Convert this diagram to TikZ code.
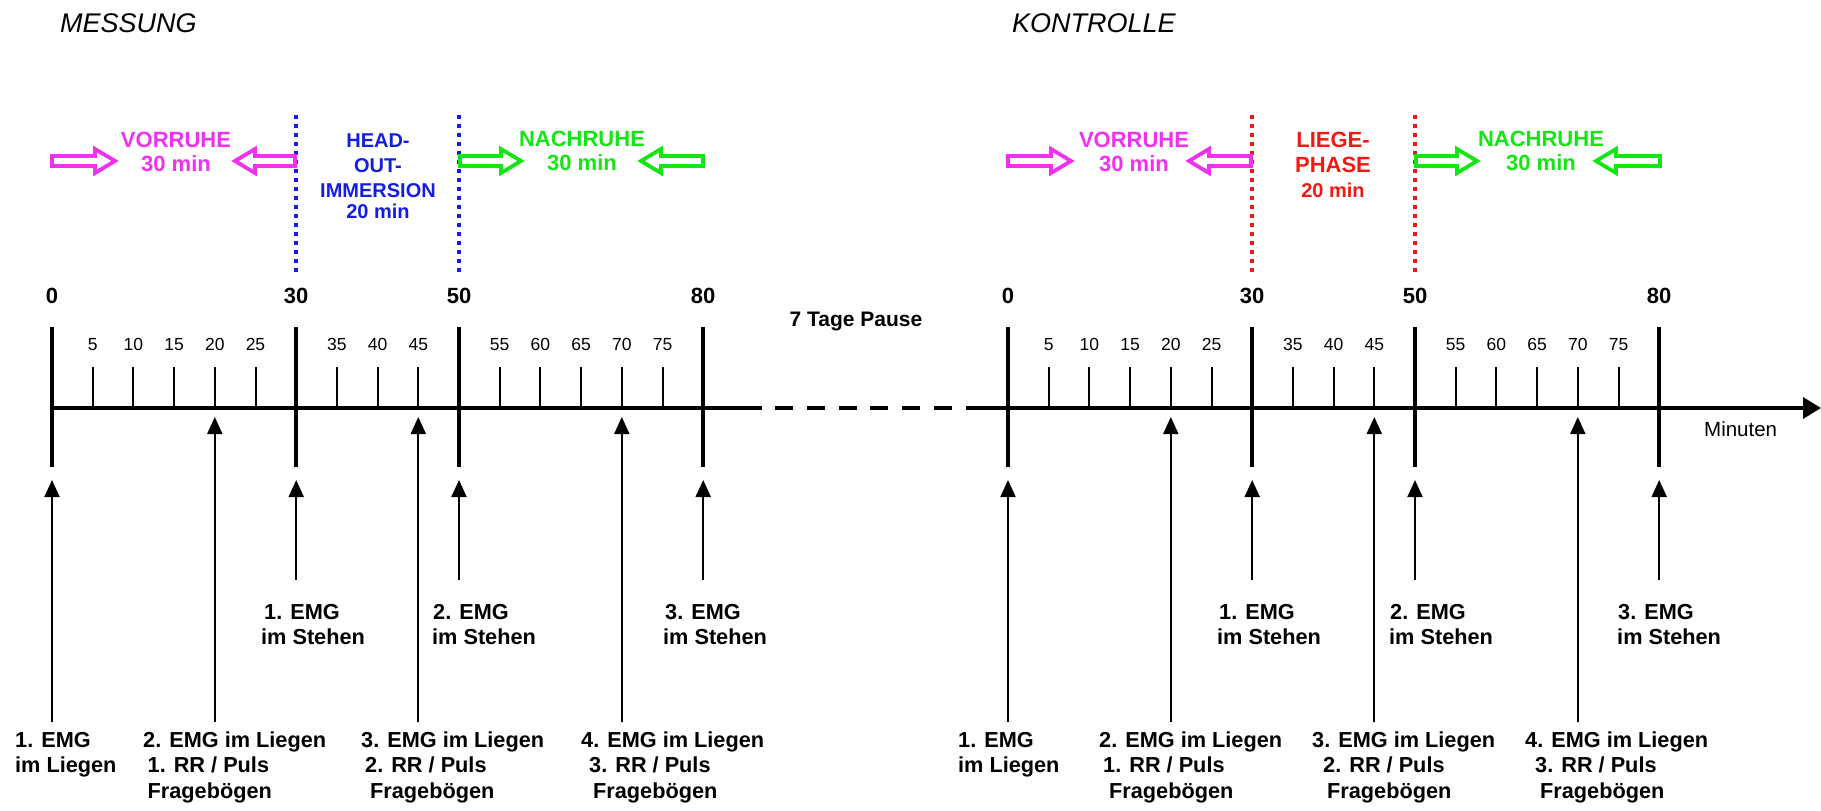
\documentclass[tikz,border=0pt]{standalone}
\usepackage{fontspec}
\setmainfont{Liberation Sans}
\usetikzlibrary{arrows.meta}
\definecolor{mag}{RGB}{240,50,240}
\definecolor{grn}{RGB}{20,230,20}
\definecolor{blu}{RGB}{20,30,225}
\definecolor{rd}{RGB}{240,25,20}
\newcommand\hollowR[4]{% colour, tail x, tip x, y
  \draw[#1, line width=3.8pt, line join=miter]
    (#2,#4-5) -- (#3-20,#4-5) -- (#3-20,#4-12) -- (#3,#4) -- (#3-20,#4+12)
    -- (#3-20,#4+5) -- (#2,#4+5) -- cycle;}
\newcommand\hollowL[4]{% colour, tip x, tail x, y
  \draw[#1, line width=3.8pt, line join=miter]
    (#3,#4-5) -- (#2+20,#4-5) -- (#2+20,#4-12) -- (#2,#4) -- (#2+20,#4+12)
    -- (#2+20,#4+5) -- (#3,#4+5) -- cycle;}
\tikzset{
  title/.style={font=\itshape\fontsize{27}{30}\selectfont, anchor=base west, inner sep=0pt},
  lbl/.style={font=\bfseries\fontsize{21.7}{25.5}\selectfont, anchor=base west, inner sep=0pt},
  phase/.style={font=\bfseries\fontsize{22}{24.5}\selectfont, anchor=base, inner sep=0pt},
  majlbl/.style={font=\bfseries\fontsize{22}{24}\selectfont, anchor=base, inner sep=0pt},
  minlbl/.style={font=\fontsize{17.5}{19}\selectfont, anchor=base, inner sep=0pt},
  axisline/.style={line width=3.3pt},
  majortick/.style={line width=4pt},
  minortick/.style={line width=2pt},
  upar/.style={line width=2pt, -{Triangle[length=17pt,width=15pt]}},
  dotline/.style={line width=3.5pt, dash pattern=on 3.5pt off 5.5pt},
}
\begin{document}
\begin{tikzpicture}[x=1pt,y=-1pt]
\useasboundingbox (0,0) rectangle (1821,811);

% titles
\node[title] (tM) at (60,32) {MESSUNG};
\node[title] (tK) at (1012,32) {KONTROLLE};

% dotted phase borders
\coordinate (bd1a) at (296,115); \coordinate (bd1b) at (296,272);
\coordinate (bd2a) at (459,115); \coordinate (bd2b) at (459,272);
\coordinate (rd1a) at (1252,115); \coordinate (rd1b) at (1252,272);
\coordinate (rd2a) at (1415,115); \coordinate (rd2b) at (1415,272);
\draw[dotline, blu] (bd1a) -- (bd1b);
\draw[dotline, blu] (bd2a) -- (bd2b);
\draw[dotline, rd] (rd1a) -- (rd1b);
\draw[dotline, rd] (rd2a) -- (rd2b);

% hollow arrows
\hollowR{mag}{52}{115}{161}
\hollowL{mag}{235}{295}{161}
\hollowR{grn}{460}{521}{161}
\hollowL{grn}{641}{703}{161}
\hollowR{mag}{1008}{1071}{161}
\hollowL{mag}{1189}{1251}{161}
\hollowR{grn}{1416}{1477}{161}
\hollowL{grn}{1596}{1660}{161}

% phase labels
\node[phase, text=mag] (vr1) at (176,147) {\begin{tabular}[t]{@{}c@{}}VORRUHE\\30 min\end{tabular}};
\node[phase, text=mag] (vr2) at (1134,147) {\begin{tabular}[t]{@{}c@{}}VORRUHE\\30 min\end{tabular}};
\node[phase, text=grn] (nr1) at (582,146) {\begin{tabular}[t]{@{}c@{}}NACHRUHE\\30 min\end{tabular}};
\node[phase, text=grn] (nr2) at (1541,146) {\begin{tabular}[t]{@{}c@{}}NACHRUHE\\30 min\end{tabular}};
\node[phase, text=blu, font=\bfseries\fontsize{20}{25}\selectfont] (hoi) at (378,147)
  {\begin{tabular}[t]{@{}c@{}}HEAD-\\OUT-\\IMMERSION\\[-4pt]20 min\end{tabular}};
\node[phase, text=rd, font=\bfseries\fontsize{22}{25}\selectfont] (lp) at (1333,147)
  {\begin{tabular}[t]{@{}c@{}}LIEGE-\\PHASE\\{\fontsize{20}{25}\selectfont 20 min}\end{tabular}};

% axis
\coordinate (A0) at (52,408);   \coordinate (A1) at (762,408);
\coordinate (D0) at (775,408);  \coordinate (D1) at (953,408);
\coordinate (B0) at (966,408);  \coordinate (B1) at (1821,408);
\draw[axisline] (A0) -- (A1);
\draw[axisline, dash pattern=on 18pt off 13.8pt] (D0) -- (D1);
\draw[axisline, -{Triangle[length=18pt,width=21pt]}] (B0) -- (B1);

\node[font=\bfseries\fontsize{21}{23}\selectfont, anchor=base, inner sep=0pt] (pause) at (856,326) {7 Tage Pause};
\node[font=\fontsize{20.5}{23}\selectfont, anchor=base west, inner sep=0pt] (minuten) at (1704,436) {Minuten};

% ticks, labels, arrows
\foreach \o/\s in {52/L,1008/R} {
  \foreach \t in {0,30,50,80} {
    \coordinate (\s M\t-a) at ({\o+8.14*\t},327);
    \coordinate (\s M\t-b) at ({\o+8.14*\t},467);
    \draw[majortick] (\s M\t-a) -- (\s M\t-b);
    \node[majlbl] (\s ML\t) at ({\o+8.14*\t},303) {\t};
  }
  \foreach \t in {5,10,15,20,25,35,40,45,55,60,65,70,75} {
    \coordinate (\s m\t-a) at ({\o+8.14*\t},367);
    \coordinate (\s m\t-b) at ({\o+8.14*\t},408);
    \draw[minortick] (\s m\t-a) -- (\s m\t-b);
    \node[minlbl] (\s mL\t) at ({\o+8.14*\t},350) {\t};
  }
  \foreach \t/\ya/\yb in {0/480/722, 20/417/722, 45/417/722, 70/417/722, 30/480/580, 50/480/580, 80/480/580} {
    \coordinate (\s P\t-t) at ({\o+8.14*\t},\ya);
    \coordinate (\s P\t-b) at ({\o+8.14*\t},\yb);
    \draw[upar] (\s P\t-b) -- (\s P\t-t);
  }
}

% bottom labels, left
\node[lbl] (La) at (15,747) {\begin{tabular}[t]{@{}l@{}}1. EMG\\im Liegen\end{tabular}};
\node[lbl] (Lb) at (143,747) {\begin{tabular}[t]{@{}l@{}}2. EMG im Liegen\\\hspace{4.5pt}1. RR / Puls\\\hspace{4.5pt}Fragebögen\end{tabular}};
\node[lbl] (Lc) at (361,747) {\begin{tabular}[t]{@{}l@{}}3. EMG im Liegen\\\hspace{4pt}2. RR / Puls\\\hspace{9pt}Fragebögen\end{tabular}};
\node[lbl] (Ld) at (581,747) {\begin{tabular}[t]{@{}l@{}}4. EMG im Liegen\\\hspace{8pt}3. RR / Puls\\\hspace{12pt}Fragebögen\end{tabular}};
\node[lbl] (Ls1) at (261,619) {\begin{tabular}[t]{@{}l@{}}\hspace{3pt}1. EMG\\im Stehen\end{tabular}};
\node[lbl] (Ls2) at (432,619) {\begin{tabular}[t]{@{}l@{}}\hspace{1pt}2. EMG\\im Stehen\end{tabular}};
\node[lbl] (Ls3) at (663,619) {\begin{tabular}[t]{@{}l@{}}\hspace{2pt}3. EMG\\im Stehen\end{tabular}};

% bottom labels, right
\node[lbl] (Ra) at (958,747) {\begin{tabular}[t]{@{}l@{}}1. EMG\\im Liegen\end{tabular}};
\node[lbl] (Rb) at (1099,747) {\begin{tabular}[t]{@{}l@{}}2. EMG im Liegen\\\hspace{4pt}1. RR / Puls\\\hspace{10pt}Fragebögen\end{tabular}};
\node[lbl] (Rc) at (1312,747) {\begin{tabular}[t]{@{}l@{}}3. EMG im Liegen\\\hspace{11pt}2. RR / Puls\\\hspace{15pt}Fragebögen\end{tabular}};
\node[lbl] (Rd) at (1525,747) {\begin{tabular}[t]{@{}l@{}}4. EMG im Liegen\\\hspace{10pt}3. RR / Puls\\\hspace{15pt}Fragebögen\end{tabular}};
\node[lbl] (Rs1) at (1217,619) {\begin{tabular}[t]{@{}l@{}}\hspace{2pt}1. EMG\\im Stehen\end{tabular}};
\node[lbl] (Rs2) at (1389,619) {\begin{tabular}[t]{@{}l@{}}\hspace{1pt}2. EMG\\im Stehen\end{tabular}};
\node[lbl] (Rs3) at (1617,619) {\begin{tabular}[t]{@{}l@{}}\hspace{1pt}3. EMG\\im Stehen\end{tabular}};
\end{tikzpicture}
\end{document}
